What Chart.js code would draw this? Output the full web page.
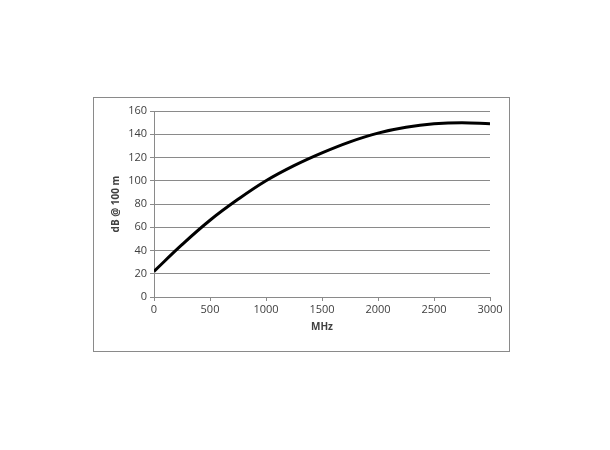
<!DOCTYPE html>
<html>
<head>
<meta charset="utf-8">
<script src="https://cdn.jsdelivr.net/npm/chart.js@4"></script>
<style>
  html, body { margin: 0; padding: 0; background: #ffffff; }
  #wrap { width: 610px; height: 450px; }
</style>
</head>
<body>
<div id="wrap"><canvas id="grafico" width="610" height="450"></canvas></div>
<script>
// Valores (MHz -> dB @ 100 m)
const frecuencias = [0, 250, 500, 750, 1000, 1250, 1500, 1750, 2000, 2250, 2500, 2750, 3000];
const atenuacion = [22, 45, 66, 84, 100, 113, 124, 133.5, 141, 146, 149, 150, 149];
const ticksX = [0, 500, 1000, 1500, 2000, 2500, 3000];
const ticksY = [0, 20, 40, 60, 80, 100, 120, 140, 160];

const puntos = frecuencias.map((f, i) => ({ x: f, y: atenuacion[i] }));

// Marco gris alrededor del gráfico
const marco = {
  id: "marco",
  beforeDraw(chart) {
    const ctx = chart.ctx;
    ctx.save();
    ctx.strokeStyle = "#8a8a8a";
    ctx.lineWidth = 1;
    ctx.strokeRect(93.5, 97.5, 416, 254);
    ctx.restore();
  },
};

const fuente = "'Open Sans', 'Liberation Sans', sans-serif";

new Chart(document.getElementById("grafico"), {
  type: "line",
  data: {
    datasets: [
      {
        data: puntos,
        borderColor: "#000000",
        borderWidth: 3,
        pointRadius: 0,
        fill: false,
        tension: 0.4,
      },
    ],
  },
  options: {
    responsive: false,
    animation: false,
    layout: { padding: { left: 104, top: 111, right: 120, bottom: 113 } },
    plugins: { legend: { display: false }, tooltip: { enabled: false } },
    scales: {
      x: {
        type: "linear",
        min: 0,
        max: 3000,
        afterBuildTicks: (s) => { s.ticks = ticksX.map((v) => ({ value: v })); },
        afterFit: (s) => { s.height = 40; },
        ticks: {
          color: "#404040",
          font: { family: fuente, size: 11 },
          padding: 2,
          callback: (v) => String(v),
        },
        grid: { drawOnChartArea: false, tickLength: 4, color: "#8a8a8a" },
        border: { color: "#8a8a8a" },
        title: {
          display: true,
          text: "MHz",
          color: "#404040",
          font: { family: fuente, size: 10, weight: "bold" },
          padding: { top: 0 },
        },
      },
      y: {
        min: 0,
        max: 160,
        afterBuildTicks: (s) => { s.ticks = ticksY.map((v) => ({ value: v })); },
        afterFit: (s) => { s.width = 50; },
        ticks: {
          color: "#404040",
          font: { family: fuente, size: 11 },
          padding: 3,
          callback: (v) => String(v),
        },
        grid: { color: "#8a8a8a", tickLength: 4 },
        border: { color: "#8a8a8a" },
        title: {
          display: true,
          text: "dB @ 100 m",
          color: "#404040",
          font: { family: fuente, size: 10, weight: "bold" },
          padding: { top: 6, bottom: 0 },
        },
      },
    },
  },
  plugins: [marco],
});
</script>
</body>
</html>
